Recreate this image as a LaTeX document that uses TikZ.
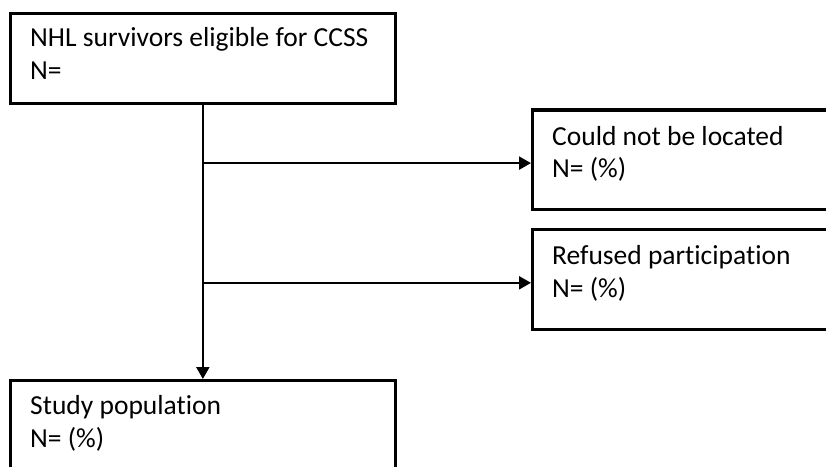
\documentclass[tikz,border=0pt]{standalone}
\usepackage{fontspec}
\setmainfont{Carlito}[Ligatures=NoCommon]
\usetikzlibrary{arrows.meta}
\tikzset{
  box/.style={draw=black, line width=3.2pt, fill=white, anchor=north west, inner sep=0pt},
  txt/.style={anchor=base west, align=left, inner sep=0pt, font=\fontsize{27.5}{32.6}\selectfont},
  conn/.style={line width=2.2pt, -{Triangle[length=12pt,width=13pt]}},
}
\begin{document}
\begin{tikzpicture}[x=1pt,y=-1pt]
\useasboundingbox (0,0) rectangle (826,466);
\clip (0,0) rectangle (826,466);
\node[box, minimum width=384.5pt, minimum height=89.7pt] (top) at (9,12) {};
\node[box, minimum width=320pt, minimum height=99.4pt] (b1) at (531,108.3) {};
\node[box, minimum width=320pt, minimum height=100pt] (b2) at (531,227.7) {};
\node[box, minimum width=384.5pt, minimum height=100pt] (bot) at (9,379) {};
\node[txt] (ttop) at ([shift={(21,67.3)}]top.north west) {NHL survivors eligible for CCSS\\N=};
\node[txt] (tb1) at ([shift={(21,69.3)}]b1.north west) {Could not be located\\N= (\%)};
\node[txt] (tb2) at ([shift={(21,69.8)}]b2.north west) {Refused participation\\N= (\%)};
\node[txt] (tbot) at ([shift={(21,68)}]bot.north west) {Study population\\N= (\%)};
\coordinate (a1) at ([yshift=-3.5pt]b1.west);
\coordinate (a2) at ([yshift=-3.5pt]b2.west);
\draw[conn] (top.south) -- (bot.north);
\draw[conn] (top.south |- a1) -- (a1);
\draw[conn] (top.south |- a2) -- (a2);
\end{tikzpicture}
\end{document}
